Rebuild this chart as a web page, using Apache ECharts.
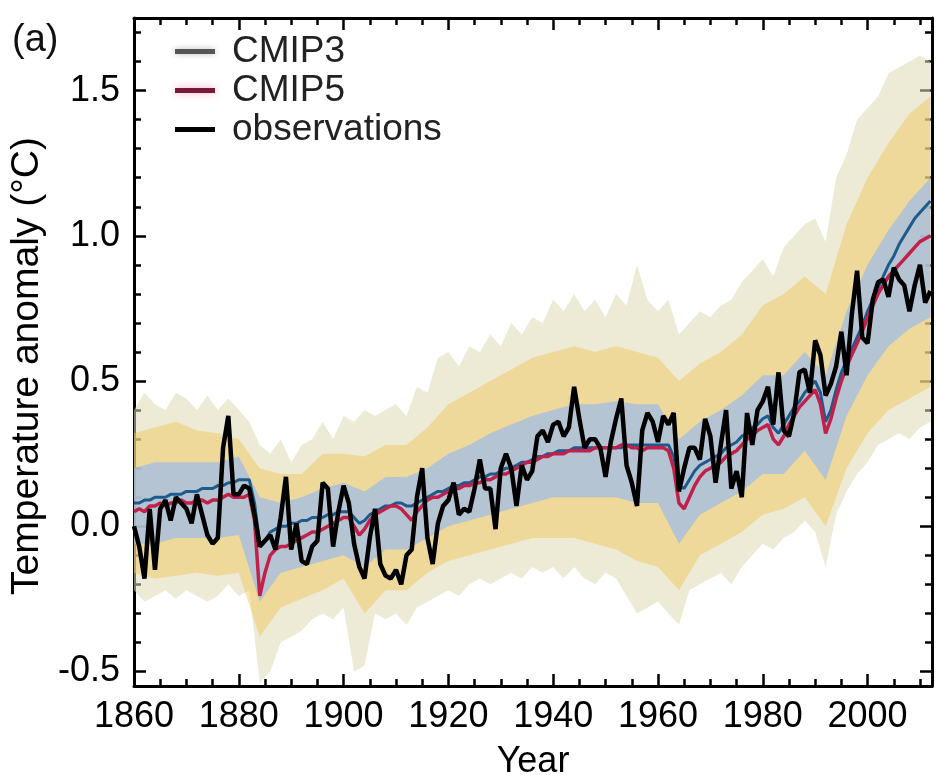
<!DOCTYPE html>
<html><head><meta charset="utf-8">
<script src="https://cdn.jsdelivr.net/npm/echarts@6/dist/echarts.min.js"></script>
<style>html,body{margin:0;padding:0;background:#fff}#c{width:936px;height:775px}</style>
</head><body><div id="c"></div>
<script>
// ---- data ----
const startYear = 1860;
const observations = [
 0.00,-0.07,-0.18,0.06,-0.15,0.06,0.09,0.02,0.10,0.08,
 0.06,0.01,0.11,0.04,-0.03,-0.06,-0.04,0.27,0.38,0.11,
 0.11,0.14,0.13,0.04,-0.07,-0.05,-0.03,-0.08,0.03,0.17,
 -0.08,0.01,-0.12,-0.13,-0.07,-0.05,0.15,0.13,-0.07,0.05,
 0.14,0.08,-0.06,-0.14,-0.18,-0.04,0.06,-0.13,-0.17,-0.18,
 -0.15,-0.20,-0.10,-0.08,0.10,0.20,-0.04,-0.13,0.01,0.07,
 0.09,0.15,0.04,0.06,0.05,0.13,0.23,0.13,0.13,-0.01,
 0.20,0.25,0.20,0.07,0.21,0.16,0.19,0.31,0.33,0.29,
 0.35,0.36,0.31,0.34,0.48,0.37,0.27,0.30,0.30,0.27,
 0.17,0.29,0.37,0.44,0.21,0.15,0.07,0.33,0.39,0.36,
 0.29,0.38,0.35,0.39,0.12,0.20,0.27,0.27,0.23,0.37,
 0.31,0.15,0.28,0.40,0.13,0.19,0.10,0.39,0.28,0.40,
 0.43,0.48,0.35,0.53,0.33,0.31,0.39,0.53,0.54,0.46,
 0.64,0.59,0.45,0.49,0.55,0.67,0.52,0.73,0.88,0.65,
 0.63,0.78,0.84,0.85,0.79,0.89,0.85,0.83,0.74,0.83,
 0.90,0.77,0.81
];
const cmip5Mean = [
 0.05,0.06,0.05,0.07,0.07,0.08,0.07,0.08,0.08,0.09,
 0.08,0.08,0.09,0.09,0.08,0.09,0.09,0.10,0.11,0.10,
 0.10,0.10,0.11,0.02,-0.24,-0.16,-0.10,-0.08,-0.07,-0.07,
 -0.06,-0.05,-0.04,-0.03,-0.02,-0.02,-0.01,0.00,0.01,0.02,
 0.03,0.03,0.00,-0.03,-0.01,0.02,0.04,0.05,0.06,0.07,
 0.07,0.06,0.04,0.02,0.05,0.07,0.09,0.10,0.10,0.11,
 0.12,0.13,0.13,0.14,0.14,0.15,0.15,0.16,0.16,0.17,
 0.18,0.18,0.19,0.20,0.21,0.22,0.22,0.23,0.24,0.24,
 0.25,0.25,0.25,0.26,0.26,0.26,0.26,0.26,0.27,0.27,
 0.27,0.27,0.27,0.28,0.28,0.27,0.27,0.26,0.27,0.27,
 0.27,0.27,0.26,0.20,0.08,0.06,0.10,0.14,0.17,0.19,
 0.20,0.21,0.22,0.24,0.25,0.26,0.28,0.30,0.31,0.33,
 0.34,0.35,0.30,0.28,0.31,0.35,0.38,0.41,0.43,0.45,
 0.47,0.42,0.32,0.37,0.44,0.50,0.55,0.59,0.63,0.67,
 0.72,0.76,0.80,0.83,0.86,0.88,0.90,0.92,0.94,0.96,
 0.98,0.99,1.00
];
const cmip3Mean = [
 0.08,0.08,0.09,0.09,0.10,0.10,0.10,0.11,0.11,0.11,
 0.12,0.12,0.12,0.13,0.13,0.13,0.14,0.14,0.15,0.15,
 0.16,0.16,0.16,0.08,-0.06,-0.05,-0.02,-0.01,0.00,0.00,
 0.01,0.01,0.02,0.02,0.03,0.03,0.03,0.04,0.04,0.05,
 0.05,0.05,0.03,0.01,0.02,0.04,0.05,0.06,0.07,0.07,
 0.08,0.08,0.07,0.07,0.08,0.09,0.10,0.11,0.12,0.12,
 0.13,0.14,0.14,0.15,0.15,0.16,0.17,0.17,0.18,0.18,
 0.19,0.20,0.20,0.21,0.22,0.22,0.23,0.24,0.24,0.25,
 0.25,0.26,0.26,0.26,0.27,0.27,0.27,0.27,0.27,0.27,
 0.27,0.27,0.27,0.27,0.28,0.28,0.28,0.28,0.28,0.28,
 0.28,0.28,0.28,0.24,0.14,0.13,0.16,0.19,0.21,0.22,
 0.23,0.24,0.25,0.27,0.28,0.29,0.31,0.32,0.34,0.35,
 0.37,0.38,0.34,0.32,0.35,0.38,0.41,0.43,0.46,0.48,
 0.50,0.46,0.36,0.40,0.47,0.53,0.57,0.61,0.65,0.69,
 0.74,0.78,0.82,0.86,0.90,0.93,0.97,1.00,1.03,1.06,
 1.08,1.10,1.12
];
// full ensemble spread (outer envelope)
const outerYears = [1860,1862,1864,1866,1868,1870,1872,1874,1876,1878,1880,1882,1884,1886,1888,1890,1892,1894,1896,1898,1900,1902,1904,1906,1908,1910,1912,1914,1916,1918,1920,1922,1924,1926,1928,1930,1932,1934,1936,1938,1940,1942,1944,1946,1948,1950,1952,1954,1956,1958,1960,1962,1964,1966,1968,1970,1972,1974,1976,1978,1980,1982,1984,1986,1988,1990,1992,1994,1996,1998,2000,2002,2004,2006,2008,2010,2012];
const outerHigh = [0.40,0.46,0.42,0.40,0.46,0.44,0.40,0.45,0.40,0.44,0.40,0.36,0.28,0.25,0.30,0.22,0.28,0.30,0.36,0.30,0.38,0.36,0.40,0.38,0.40,0.42,0.38,0.48,0.46,0.58,0.60,0.55,0.62,0.60,0.66,0.62,0.70,0.66,0.72,0.70,0.78,0.74,0.80,0.74,0.78,0.72,0.80,0.76,0.90,0.78,0.74,0.78,0.66,0.70,0.74,0.72,0.76,0.78,0.84,0.88,0.92,0.86,0.96,1.00,1.04,1.06,0.98,1.20,1.28,1.40,1.44,1.48,1.56,1.58,1.60,1.62,1.60];
const outerLow = [-0.22,-0.26,-0.24,-0.22,-0.25,-0.22,-0.24,-0.26,-0.24,-0.20,-0.24,-0.22,-0.54,-0.50,-0.40,-0.38,-0.36,-0.32,-0.30,-0.32,-0.28,-0.50,-0.48,-0.30,-0.32,-0.30,-0.34,-0.28,-0.26,-0.24,-0.22,-0.24,-0.20,-0.18,-0.20,-0.18,-0.16,-0.18,-0.14,-0.16,-0.14,-0.18,-0.14,-0.18,-0.20,-0.16,-0.18,-0.24,-0.30,-0.28,-0.26,-0.30,-0.34,-0.22,-0.20,-0.18,-0.16,-0.20,-0.14,-0.10,-0.06,-0.08,-0.04,-0.02,0.02,-0.02,-0.14,0.04,0.12,0.18,0.22,0.28,0.30,0.32,0.30,0.34,0.36];
// denser core of model runs
const coreYears = [1860,1864,1868,1872,1876,1880,1884,1888,1892,1896,1900,1904,1908,1912,1916,1920,1924,1928,1932,1936,1940,1944,1948,1952,1956,1960,1964,1968,1972,1976,1980,1984,1988,1992,1996,2000,2004,2008,2012];
const midHigh = [0.32,0.34,0.36,0.33,0.32,0.30,0.20,0.18,0.18,0.25,0.25,0.24,0.28,0.28,0.34,0.42,0.46,0.50,0.54,0.58,0.60,0.62,0.60,0.62,0.60,0.58,0.50,0.56,0.60,0.66,0.76,0.80,0.86,0.80,1.04,1.20,1.32,1.42,1.48];
const midLow = [-0.16,-0.18,-0.17,-0.16,-0.17,-0.16,-0.38,-0.28,-0.25,-0.22,-0.18,-0.30,-0.22,-0.22,-0.16,-0.12,-0.10,-0.08,-0.06,-0.04,-0.04,-0.04,-0.06,-0.08,-0.12,-0.14,-0.22,-0.10,-0.06,-0.02,0.04,0.06,0.10,0.00,0.20,0.32,0.40,0.44,0.48];
const innerHigh = [0.20,0.22,0.22,0.22,0.22,0.24,0.10,0.08,0.10,0.13,0.15,0.12,0.17,0.17,0.20,0.25,0.28,0.32,0.35,0.38,0.40,0.42,0.42,0.43,0.42,0.42,0.30,0.36,0.40,0.45,0.52,0.52,0.60,0.52,0.74,0.90,1.02,1.12,1.20];
const innerLow = [-0.06,-0.06,-0.04,-0.04,-0.04,-0.03,-0.26,-0.16,-0.14,-0.12,-0.10,-0.14,-0.08,-0.08,-0.04,0.00,0.02,0.04,0.06,0.08,0.10,0.10,0.10,0.10,0.08,0.08,-0.06,0.04,0.08,0.12,0.18,0.18,0.26,0.16,0.38,0.52,0.62,0.68,0.72];
// ticks
const xLabelTicks = [1860,1880,1900,1920,1940,1960,1980,2000];
const xMinorTicks = [1865,1870,1875,1885,1890,1895,1905,1910,1915,1925,1930,1935,1945,1950,1955,1965,1970,1975,1985,1990,1995,2005,2010];
const yLabelTicks = [-0.5,0.0,0.5,1.0,1.5];
const yMinorTicks = [-0.4,-0.3,-0.2,-0.1,0.1,0.2,0.3,0.4,0.6,0.7,0.8,0.9,1.1,1.2,1.3,1.4,1.6,1.7];

// ---- chart ----
const FONT = 'Liberation Sans, Arial, Helvetica, sans-serif';
const pairs = arr => arr.map((v, i) => [startYear + i, v]);
function band(name, yrs, hi, lo, fill, z) {
  return {
    type: 'custom', name: name, silent: true, z: z, clip: true,
    data: [[yrs[0], lo[0]]],
    renderItem: function (params, api) {
      const pts = [];
      for (let i = 0; i < yrs.length; i++) pts.push(api.coord([yrs[i], hi[i]]));
      for (let i = yrs.length - 1; i >= 0; i--) pts.push(api.coord([yrs[i], lo[i]]));
      return { type: 'polygon', shape: { points: pts }, style: { fill: fill } };
    }
  };
}
const XMIN = 1860, XMAX = 2012.3, YMIN = -0.55, YMAX = 1.75;
function axLine(show) {
  return { show: show, onZero: false, lineStyle: { color: '#000', width: 3 } };
}
function xAx(pos, vals, len, showLine, labels) {
  const a = {
    type: 'value', min: XMIN, max: XMAX, position: pos, splitLine: { show: false },
    axisLine: axLine(showLine),
    axisTick: { show: true, inside: true, length: len, customValues: vals, lineStyle: { color: '#000', width: 2.5 } },
    axisLabel: { show: false }
  };
  if (labels) {
    a.axisLabel = { show: true, customValues: xLabelTicks, fontSize: 36, color: '#000', fontFamily: FONT, margin: 13,
      formatter: v => String(Math.round(v)) };
    a.name = 'Year'; a.nameLocation = 'middle'; a.nameGap = 58;
    a.nameTextStyle = { fontSize: 36, color: '#000', fontFamily: FONT };
  }
  return a;
}
function yAx(pos, vals, len, showLine, labels) {
  const a = {
    type: 'value', min: YMIN, max: YMAX, position: pos, splitLine: { show: false },
    axisLine: axLine(showLine),
    axisTick: { show: true, inside: true, length: len, customValues: vals, lineStyle: { color: '#000', width: 2.5 } },
    axisLabel: { show: false }
  };
  if (labels) {
    a.axisLabel = { show: true, customValues: yLabelTicks, fontSize: 36, color: '#000', fontFamily: FONT, margin: 14,
      formatter: v => v.toFixed(1) };
    a.name = 'Temperature anomaly (°C)'; a.nameLocation = 'middle'; a.nameGap = 80; a.nameRotate = 90;
    a.nameTextStyle = { fontSize: 39, color: '#000', fontFamily: FONT, padding: [0, 28, 0, 0] };
  }
  return a;
}
const chart = echarts.init(document.getElementById('c'), null, { renderer: 'canvas' });
chart.setOption({
  backgroundColor: '#fff',
  animation: false,
  grid: { left: 134, right: 4, top: 18, bottom: 89, containLabel: false, outerBoundsMode: 'none' },
  xAxis: [
    xAx('bottom', xLabelTicks, 12, true, true),
    xAx('bottom', xMinorTicks, 7, false, false),
    xAx('top', xLabelTicks, 12, true, false),
    xAx('top', xMinorTicks, 7, false, false)
  ],
  yAxis: [
    yAx('left', yLabelTicks, 12, true, true),
    yAx('left', yMinorTicks, 7, false, false),
    yAx('right', yLabelTicks, 12, true, false),
    yAx('right', yMinorTicks, 7, false, false)
  ],
  legend: {
    orient: 'vertical', left: 170, top: 28, itemWidth: 40, itemHeight: 5, itemGap: 2,
    textStyle: { fontSize: 37, color: '#222', fontFamily: FONT, padding: [0, 0, 0, 12] },
    data: [
      { name: 'CMIP3', icon: 'rect', itemStyle: { color: '#555', shadowColor: '#bbb', shadowBlur: 6 } },
      { name: 'CMIP5', icon: 'rect', itemStyle: { color: '#7a1838', shadowColor: '#f3a9c4', shadowBlur: 8 } },
      { name: 'observations', icon: 'rect', itemStyle: { color: '#000' } }
    ]
  },
  graphic: [
    { type: 'text', left: 12, top: 22, style: { text: '(a)', fontSize: 38, fill: '#111', fontFamily: FONT } }
  ],
  series: [
    band('spread', outerYears, outerHigh, outerLow, 'rgba(222,218,180,0.55)', 1),
    band('core', coreYears, midHigh, midLow, 'rgba(240,200,95,0.5)', 2),
    band('inner', coreYears, innerHigh, innerLow, 'rgba(160,188,228,0.75)', 3),
    { type: 'line', name: 'CMIP3', data: pairs(cmip3Mean), symbol: 'none', z: 5,
      lineStyle: { color: '#1f5a8c', width: 3 } },
    { type: 'line', name: 'CMIP5', data: pairs(cmip5Mean), symbol: 'none', z: 6,
      lineStyle: { color: '#c0204a', width: 3.5 } },
    { type: 'line', name: 'observations', data: pairs(observations), symbol: 'none', z: 7,
      lineStyle: { color: '#000', width: 4.5 } }
  ]
});
</script>
</body></html>
